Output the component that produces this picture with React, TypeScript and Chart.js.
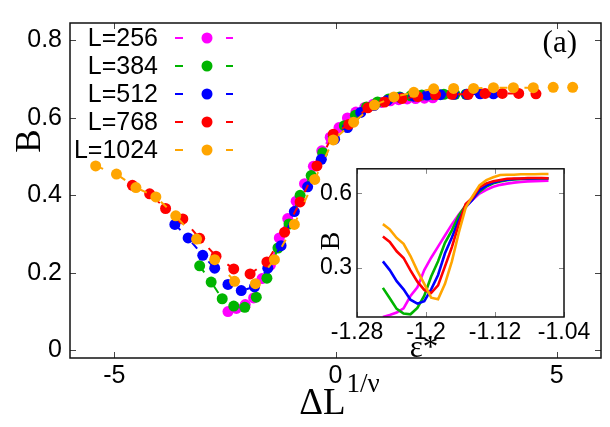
import React, { useEffect, useRef } from "react";
import { Chart, registerables } from "chart.js";

Chart.register(...registerables);

// ---------- data ----------
const seriesLabels = ["L=256", "L=384", "L=512", "L=768", "L=1024"];
const seriesColors = ["#ff00ff", "#00b400", "#0000ff", "#ff0000", "#ffa500"];

// scaled variable ΔL^{1/ν} (main panel)
const x256 = [-2.43, -2.24, -2.04, -1.85, -1.66, -1.47, -1.27, -1.08, -0.89, -0.7, -0.5, -0.31, -0.12, 0.08, 0.27, 0.46, 0.66, 0.85, 1.04, 1.24, 1.43, 1.62, 1.81, 2.01, 2.2];
const x384 = [-3.07, -2.81, -2.56, -2.3, -2.05, -1.79, -1.55, -1.3, -1.05, -0.8, -0.55, -0.29, -0.05, 0.2, 0.45, 0.7, 0.95, 1.2, 1.45, 1.7, 1.95, 2.2, 2.45, 2.7, 2.95];
const x512 = [-3.63, -3.33, -3.0, -2.73, -2.43, -2.13, -1.83, -1.53, -1.23, -0.93, -0.63, -0.32, -0.02, 0.27, 0.57, 0.87, 1.17, 1.47, 1.77, 2.07, 2.37, 2.67, 2.97, 3.27, 3.57];
const x768 = [-4.59, -4.2, -3.84, -3.45, -3.07, -2.7, -2.3, -1.93, -1.55, -1.15, -0.8, -0.42, -0.05, 0.3, 0.73, 1.11, 1.5, 1.86, 2.26, 2.63, 3.0, 3.38, 3.77, 4.14, 4.53];
const x1024 = [-5.42, -4.95, -4.51, -4.06, -3.61, -3.14, -2.73, -2.28, -1.81, -1.38, -0.93, -0.47, -0.05, 0.41, 0.88, 1.32, 1.77, 2.22, 2.67, 3.12, 3.57, 4.02, 4.47, 4.92, 5.36];

// B values
const b256 = [0.1, 0.108, 0.118, 0.135, 0.185, 0.22, 0.29, 0.34, 0.385, 0.43, 0.475, 0.515, 0.55, 0.575, 0.6, 0.615, 0.627, 0.635, 0.64, 0.644, 0.647, 0.649, 0.65, 0.651, 0.652];
const b384 = [0.218, 0.176, 0.133, 0.114, 0.111, 0.137, 0.186, 0.264, 0.326, 0.4, 0.451, 0.51, 0.552, 0.58, 0.607, 0.628, 0.641, 0.649, 0.654, 0.657, 0.659, 0.66, 0.661, 0.661, 0.661];
const b512 = [0.325, 0.29, 0.245, 0.212, 0.17, 0.154, 0.164, 0.212, 0.27, 0.358, 0.422, 0.493, 0.545, 0.575, 0.614, 0.632, 0.645, 0.652, 0.656, 0.659, 0.66, 0.661, 0.661, 0.662, 0.662];
const b768 = [0.426, 0.404, 0.366, 0.339, 0.289, 0.243, 0.21, 0.197, 0.228, 0.305, 0.383, 0.476, 0.558, 0.583, 0.626, 0.641, 0.65, 0.655, 0.66, 0.661, 0.661, 0.663, 0.663, 0.663, 0.662];
const b1024 = [0.476, 0.455, 0.42, 0.396, 0.347, 0.287, 0.234, 0.178, 0.172, 0.234, 0.325, 0.441, 0.543, 0.589, 0.633, 0.654, 0.666, 0.675, 0.676, 0.676, 0.678, 0.678, 0.678, 0.679, 0.679];

// ε* values of the inset (same points, unscaled)
const epsValues = [-1.25, -1.242, -1.234, -1.226, -1.218, -1.21, -1.202, -1.194, -1.186, -1.178, -1.17, -1.162, -1.154, -1.146, -1.138, -1.13, -1.122, -1.114, -1.106, -1.098, -1.09, -1.082, -1.074, -1.066, -1.058];

const mainXTicks = [-5, 0, 5];
const mainYTicks = [0, 0.2, 0.4, 0.6, 0.8];
const insetXTicks = [-1.28, -1.2, -1.12, -1.04];
const insetYTicks = [0.3, 0.6];

const xSeries = [x256, x384, x512, x768, x1024];
const bSeries = [b256, b384, b512, b768, b1024];

// ---------- styles ----------
const SANS = '"Liberation Sans", Arial, Helvetica, sans-serif';
const SERIF = '"Liberation Serif", "Times New Roman", Times, serif';

function frameAndTicks(chart: any, tickColor: string, tickLen: number) {
  const { ctx, chartArea: a, scales } = chart;
  ctx.save();
  ctx.strokeStyle = tickColor;
  ctx.lineWidth = 1;
  ctx.setLineDash([]);
  ctx.beginPath();
  scales.x.ticks.forEach((t: any) => {
    const px = Math.round(scales.x.getPixelForValue(t.value)) + 0.5;
    ctx.moveTo(px, a.bottom);
    ctx.lineTo(px, a.bottom - tickLen);
    ctx.moveTo(px, a.top);
    ctx.lineTo(px, a.top + tickLen);
  });
  scales.y.ticks.forEach((t: any) => {
    const py = Math.round(scales.y.getPixelForValue(t.value)) + 0.5;
    ctx.moveTo(a.left, py);
    ctx.lineTo(a.left + tickLen, py);
    ctx.moveTo(a.right, py);
    ctx.lineTo(a.right - tickLen, py);
  });
  ctx.stroke();
  ctx.strokeStyle = "#111";
  ctx.lineWidth = 1.5;
  ctx.strokeRect(a.left, a.top, a.right - a.left, a.bottom - a.top);
  ctx.restore();
}

const mainDecor = {
  id: "mainDecor",
  afterDraw(chart: any) {
    const { ctx, chartArea: a } = chart;
    frameAndTicks(chart, "#444", 6);
    ctx.save();
    // legend
    seriesLabels.forEach((lab, i) => {
      const y = a.top + 15 + i * 28;
      ctx.fillStyle = "#000";
      ctx.font = `25px ${SANS}`;
      ctx.textAlign = "right";
      ctx.textBaseline = "middle";
      ctx.fillText(lab, a.left + 88, y + 1);
      ctx.strokeStyle = seriesColors[i];
      ctx.lineWidth = 2;
      ctx.beginPath();
      ctx.moveTo(a.left + 105, y);
      ctx.lineTo(a.left + 113, y);
      ctx.moveTo(a.left + 156, y);
      ctx.lineTo(a.left + 163, y);
      ctx.stroke();
      ctx.fillStyle = seriesColors[i];
      ctx.beginPath();
      ctx.arc(a.left + 137, y, 5.5, 0, Math.PI * 2);
      ctx.fill();
    });
    // panel label
    ctx.fillStyle = "#000";
    ctx.font = `31px ${SERIF}`;
    ctx.textAlign = "right";
    ctx.textBaseline = "alphabetic";
    ctx.fillText("(a)", a.right - 24, a.top + 29);
    // y title
    ctx.save();
    ctx.translate(31, 141);
    ctx.rotate(-Math.PI / 2);
    ctx.font = `35px ${SERIF}`;
    ctx.textAlign = "center";
    ctx.textBaseline = "middle";
    ctx.fillText("B", 0, 0);
    ctx.restore();
    // x title with superscript
    const big = `37px ${SERIF}`;
    const small = `27px ${SERIF}`;
    ctx.font = big;
    const w1 = ctx.measureText("ΔL").width;
    ctx.font = small;
    const w2 = ctx.measureText("1/ν").width;
    const cx = (a.left + a.right) / 2 + 4;
    const x0 = cx - (w1 + w2 + 1) / 2;
    ctx.textAlign = "left";
    ctx.textBaseline = "alphabetic";
    ctx.font = big;
    ctx.fillText("ΔL", x0, a.bottom + 56);
    ctx.font = small;
    ctx.fillText("1/ν", x0 + w1 + 1, a.bottom + 34);
    ctx.restore();
  },
};

const insetDecor = {
  id: "insetDecor",
  beforeDatasetsDraw(chart: any) {
    const { ctx, chartArea: a } = chart;
    ctx.save();
    ctx.fillStyle = "#fff";
    ctx.fillRect(a.left, a.top, a.right - a.left, a.bottom - a.top);
    ctx.restore();
  },
  afterDraw(chart: any) {
    const { ctx, chartArea: a } = chart;
    frameAndTicks(chart, "#888", 5);
    ctx.save();
    ctx.fillStyle = "#000";
    ctx.save();
    ctx.translate(a.left - 25, a.top + 72);
    ctx.rotate(-Math.PI / 2);
    ctx.font = `28px ${SERIF}`;
    ctx.textAlign = "center";
    ctx.textBaseline = "middle";
    ctx.fillText("B", 0, 0);
    ctx.restore();
    ctx.font = `31px ${SERIF}`;
    ctx.textAlign = "center";
    ctx.textBaseline = "alphabetic";
    ctx.fillText("ε*", a.left + 67, a.bottom + 40);
    ctx.restore();
  },
};

const tickFmt = (v: any) => String(v);

export default function App() {
  const mainRef = useRef<HTMLCanvasElement | null>(null);
  const insetRef = useRef<HTMLCanvasElement | null>(null);

  useEffect(() => {
    const mainChart = new Chart(mainRef.current as HTMLCanvasElement, {
      type: "scatter",
      data: {
        datasets: seriesLabels.map((lab, i) => ({
          label: lab,
          data: xSeries[i].map((x, j) => ({ x, y: bSeries[i][j] })),
          showLine: true,
          borderColor: seriesColors[i],
          backgroundColor: seriesColors[i],
          borderWidth: 2,
          borderDash: [8, 17],
          pointRadius: 5.5,
          pointHoverRadius: 5.5,
          pointBorderWidth: 0,
          pointBackgroundColor: seriesColors[i],
          order: seriesLabels.length - 1 - i,
        })),
      },
      options: {
        responsive: false,
        animation: false,
        devicePixelRatio: 1,
        layout: { padding: { top: 12, right: 9, left: 0, bottom: 0 } },
        plugins: { legend: { display: false }, tooltip: { enabled: false } },
        events: [],
        scales: {
          x: {
            type: "linear",
            min: -6,
            max: 6,
            afterBuildTicks: (s: any) => {
              s.ticks = mainXTicks.map((v) => ({ value: v }));
            },
            afterFit: (s: any) => {
              s.height = 69;
            },
            grid: { display: false, drawTicks: false },
            border: { display: false },
            ticks: {
              color: "#000",
              font: { family: SANS, size: 25 },
              padding: 3,
              autoSkip: false,
              maxRotation: 0,
              callback: tickFmt,
            },
          },
          y: {
            type: "linear",
            min: -0.02,
            max: 0.845,
            afterBuildTicks: (s: any) => {
              s.ticks = mainYTicks.map((v) => ({ value: v }));
            },
            afterFit: (s: any) => {
              s.width = 70;
            },
            grid: { display: false, drawTicks: false },
            border: { display: false },
            ticks: {
              color: "#000",
              font: { family: SANS, size: 25 },
              padding: 8,
              autoSkip: false,
              callback: tickFmt,
            },
          },
        },
      },
      plugins: [mainDecor],
    } as any);

    const insetChart = new Chart(insetRef.current as HTMLCanvasElement, {
      type: "scatter",
      data: {
        datasets: seriesLabels.map((lab, i) => ({
          label: lab,
          data: epsValues.map((e, j) => ({ x: e, y: bSeries[i][j] })),
          showLine: true,
          borderColor: seriesColors[i],
          backgroundColor: seriesColors[i],
          borderWidth: 2.6,
          pointRadius: 0,
          pointHoverRadius: 0,
          order: seriesLabels.length - 1 - i,
        })),
      },
      options: {
        responsive: false,
        animation: false,
        devicePixelRatio: 1,
        layout: { padding: { top: 15, right: 36, left: 0, bottom: 0 } },
        plugins: { legend: { display: false }, tooltip: { enabled: false } },
        events: [],
        scales: {
          x: {
            type: "linear",
            min: -1.28,
            max: -1.04,
            afterBuildTicks: (s: any) => {
              s.ticks = insetXTicks.map((v) => ({ value: v }));
            },
            afterFit: (s: any) => {
              s.height = 48;
            },
            grid: { display: false, drawTicks: false },
            border: { display: false },
            ticks: {
              color: "#000",
              font: { family: SANS, size: 23 },
              padding: 2,
              autoSkip: false,
              maxRotation: 0,
              callback: tickFmt,
            },
          },
          y: {
            type: "linear",
            min: 0.1,
            max: 0.7,
            afterBuildTicks: (s: any) => {
              s.ticks = insetYTicks.map((v) => ({ value: v }));
            },
            afterFit: (s: any) => {
              s.width = 57;
            },
            grid: { display: false, drawTicks: false },
            border: { display: false },
            ticks: {
              color: "#000",
              font: { family: SANS, size: 23 },
              padding: 5,
              autoSkip: false,
              callback: tickFmt,
            },
          },
        },
      },
      plugins: [insetDecor],
    } as any);

    return () => {
      mainChart.destroy();
      insetChart.destroy();
    };
  }, []);

  return (
    <div style={{ position: "fixed", left: 0, top: 0, width: 610, height: 427, background: "#fff" }}>
      <canvas ref={mainRef} width={610} height={427} style={{ position: "absolute", left: 0, top: 0 }} />
      <canvas ref={insetRef} width={300} height={215} style={{ position: "absolute", left: 300, top: 150 }} />
    </div>
  );
}
